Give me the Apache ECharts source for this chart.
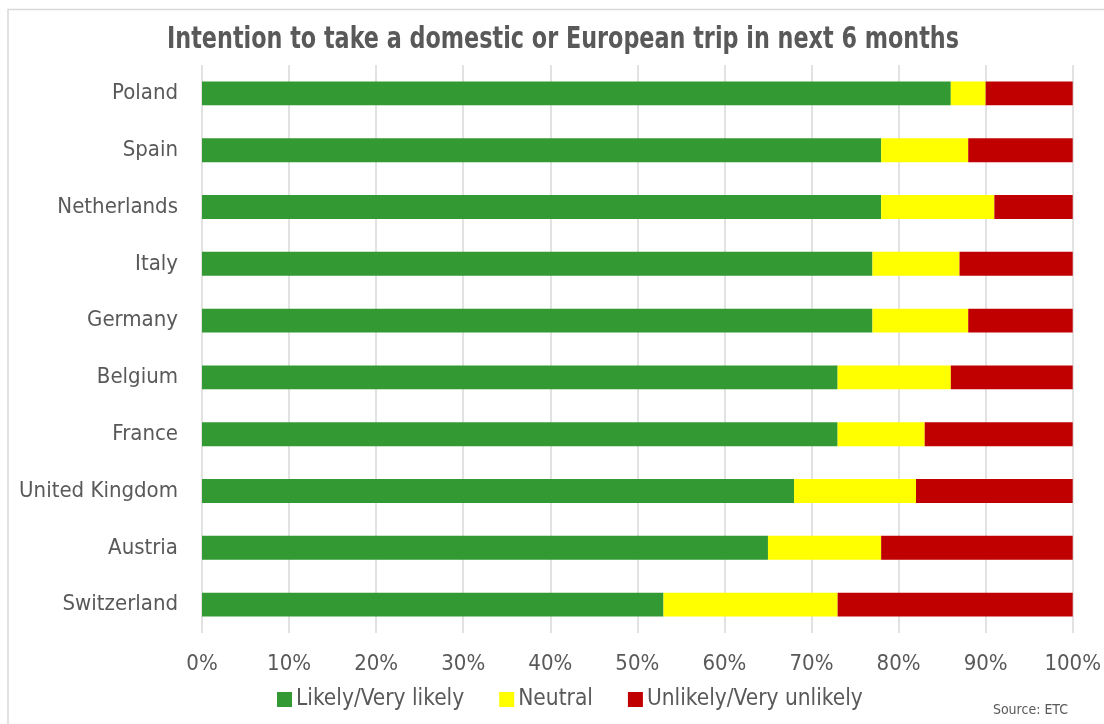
<!DOCTYPE html>
<html>
<head>
<meta charset="utf-8">
<script src="https://cdn.jsdelivr.net/npm/echarts@6/dist/echarts.min.js"></script>
<style>
  html, body { margin: 0; padding: 0; background: #fff; }
  #chart { width: 1104px; height: 724px; }
</style>
</head>
<body>
<div id="chart"></div>
<script>
// Countries, top to bottom
const countries = ['Poland', 'Spain', 'Netherlands', 'Italy', 'Germany', 'Belgium', 'France', 'United Kingdom', 'Austria', 'Switzerland'];
// Share of respondents (%) per answer
const likely   = [86, 78, 78, 77, 77, 73, 73, 68, 65, 53];
const neutral  = [4, 10, 13, 10, 11, 13, 10, 14, 13, 20];
const unlikely = [10, 12, 9, 13, 12, 14, 17, 18, 22, 27];
const seriesNames = ['Likely/Very likely', 'Neutral', 'Unlikely/Very unlikely'];
const seriesColors = ['#339933', '#ffff00', '#c00000'];
const titleText = 'Intention to take a domestic or European trip in next 6 months';
const sourceText = 'Source: ETC';

const FONT = '"DejaVu Sans Condensed", "Liberation Sans", sans-serif';
const TEXT = '#595959';

const chart = echarts.init(document.getElementById('chart'), null, { renderer: 'canvas' });
const values = [likely, neutral, unlikely];

chart.setOption({
  backgroundColor: '#ffffff',
  animation: false,
  graphic: [
    // frame: left and top edges
    {
      type: 'polyline',
      shape: { points: [[8, 724], [8, 9.5], [1104, 9.5]] },
      style: { fill: null, stroke: '#d9d9d9', lineWidth: 1.5 },
      silent: true
    },
    // condensed bold title
    {
      type: 'text',
      x: 563,
      y: 40,
      scaleX: 0.8,
      style: {
        text: titleText,
        font: 'bold 31px "DejaVu Sans Condensed", sans-serif',
        fill: TEXT,
        align: 'center',
        verticalAlign: 'middle'
      },
      silent: true
    },
    {
      type: 'text',
      right: 36,
      top: 703,
      style: { text: sourceText, fontFamily: FONT, fontSize: 14, fill: TEXT }
    }
  ],
  legend: {
    data: seriesNames,
    bottom: 8,
    left: 272,
    itemWidth: 15,
    itemHeight: 15,
    itemGap: 35,
    icon: 'rect',
    textStyle: { fontFamily: FONT, fontSize: 22.5, color: TEXT, padding: [0, 0, 0, -1] }
  },
  grid: { left: 202, right: 28, top: 65, bottom: 91, containLabel: false },
  xAxis: {
    type: 'value',
    min: 0,
    max: 100,
    interval: 10,
    axisLine: { show: false },
    axisTick: { show: false },
    axisLabel: {
      formatter: '{value}%',
      margin: 20,
      fontFamily: FONT, fontSize: 22, color: TEXT
    },
    splitLine: { show: true, lineStyle: { color: '#d9d9d9', width: 1.5 } }
  },
  yAxis: {
    type: 'category',
    data: countries,
    inverse: true,
    axisLine: { show: false },
    axisTick: { show: false },
    axisLabel: { margin: 24, fontFamily: FONT, fontSize: 22, color: TEXT, padding: [4, 0, 0, 0] }
  },
  series: seriesNames.map((name, i) => ({
    name: name,
    type: 'bar',
    stack: 'total',
    barWidth: '42%',
    itemStyle: { color: seriesColors[i] },
    data: values[i]
  }))
});
</script>
</body>
</html>
